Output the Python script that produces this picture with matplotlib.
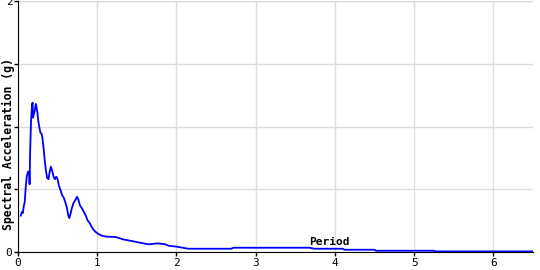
import matplotlib
matplotlib.use("Agg")
import matplotlib.pyplot as plt

# periodo (s) y aceleracion espectral (g)
periodo = [0.034, 0.05, 0.06, 0.072, 0.085, 0.098, 0.11, 0.127, 0.142, 0.146, 0.153,
           0.165, 0.178, 0.185, 0.19, 0.20, 0.21, 0.225, 0.235, 0.245, 0.255, 0.27,
           0.284, 0.30, 0.31, 0.326, 0.339, 0.352, 0.368, 0.385, 0.40, 0.415, 0.43,
           0.449, 0.466, 0.483, 0.50, 0.516, 0.538, 0.559, 0.58, 0.60, 0.618, 0.635,
           0.648, 0.665, 0.68, 0.70, 0.72, 0.745, 0.76, 0.783, 0.805, 0.83, 0.855,
           0.88, 0.905, 0.93, 0.956, 0.98, 1.015, 1.06, 1.12, 1.23, 1.33, 1.44,
           1.54, 1.65, 1.76, 1.85, 1.90, 2.01, 2.15, 2.69, 2.72, 3.68, 3.74, 4.1,
           4.12, 4.5, 4.52, 5.25, 5.27, 6.5]
aceleracion = [0.29, 0.32, 0.31, 0.36, 0.40, 0.52, 0.60, 0.64, 0.64, 0.54, 0.80,
               1.05, 1.18, 1.19, 1.07, 1.10, 1.12, 1.18, 1.15, 1.11, 1.05, 0.99,
               0.95, 0.94, 0.90, 0.81, 0.72, 0.65, 0.59, 0.58, 0.64, 0.68, 0.65,
               0.60, 0.58, 0.60, 0.58, 0.53, 0.49, 0.45, 0.43, 0.39, 0.35, 0.29,
               0.27, 0.31, 0.35, 0.39, 0.41, 0.44, 0.42, 0.37, 0.35, 0.32, 0.29,
               0.25, 0.23, 0.20, 0.175, 0.16, 0.143, 0.13, 0.122, 0.12, 0.10, 0.087,
               0.074, 0.061, 0.069, 0.063, 0.05, 0.042, 0.026, 0.026, 0.034, 0.034,
               0.026, 0.026, 0.018, 0.018, 0.01, 0.01, 0.005, 0.005]

xticks = [0, 1, 2, 3, 4, 5, 6]
yticks = [0, 0.5, 1, 1.5, 2]
ytick_labels = ["0", "", "", "", "2"]

fig = plt.figure(figsize=(5.4, 2.7), dpi=100)
ax = fig.add_axes([18 / 540, 18 / 270, 515 / 540, 251 / 270])

ax.plot(periodo, aceleracion, color="#0000ff", linewidth=1.3)

ax.set_xlim(0, 6.5)
ax.set_ylim(0, 2)
ax.set_xticks(xticks)
ax.set_yticks(yticks)
ax.set_xticklabels([str(t) for t in xticks], family="DejaVu Sans Mono", fontsize=8)
ax.set_yticklabels(ytick_labels, family="DejaVu Sans Mono", fontsize=8)
ax.tick_params(length=3, width=1, color="black", pad=1)
ax.grid(True, color="#dddddd", linewidth=1)
ax.set_axisbelow(True)

for lado in ["top", "right"]:
    ax.spines[lado].set_visible(False)
ax.spines["left"].set_color("black")
ax.spines["bottom"].set_color("black")
ax.axhline(2, color="#dddddd", linewidth=1, zorder=0)

ax.text(3.93, 0.04, "Period", family="DejaVu Sans Mono", fontweight="bold",
        fontsize=8, ha="center", va="bottom")
fig.text(8 / 540, (270 - 144) / 270, "Spectral Acceleration (g)",
         family="DejaVu Sans Mono", fontweight="bold", fontsize=8.3,
         rotation=90, ha="center", va="center")

fig.savefig("out.png", dpi=100)
